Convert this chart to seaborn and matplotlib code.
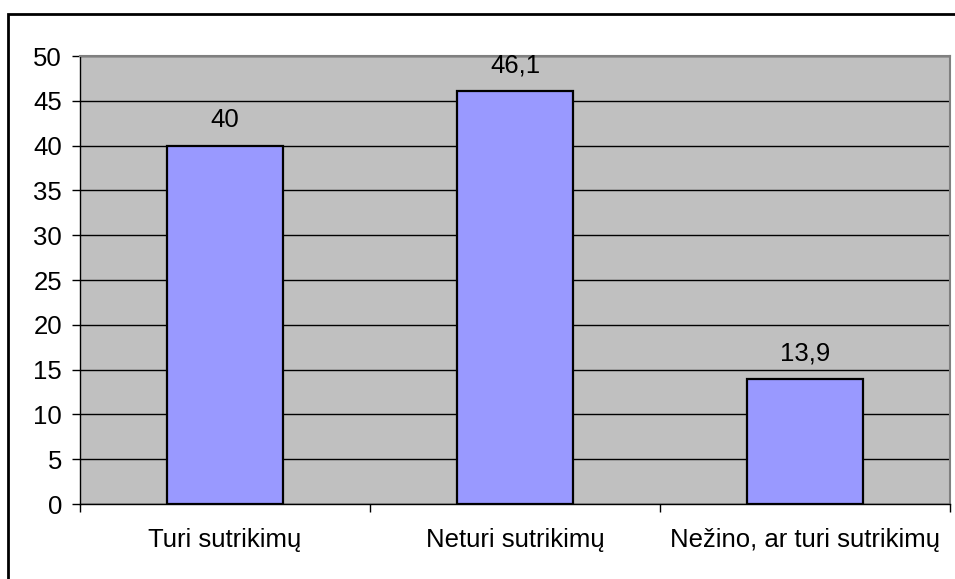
import matplotlib
matplotlib.use('Agg')
import matplotlib.pyplot as plt
import seaborn as sns
import pandas as pd
from matplotlib.patches import Rectangle

# ============================================================
# データ
# ============================================================
categories = ['Turi sutrikimų', 'Neturi sutrikimų', 'Nežino, ar turi sutrikimų']
values = [40, 46.1, 13.9]
y_ticks = [0, 5, 10, 15, 20, 25, 30, 35, 40, 45, 50]

sns.set_style('white')
plt.rcParams['font.family'] = ['Liberation Sans', 'DejaVu Sans']
plt.rcParams['text.color'] = 'black'
plt.rcParams['xtick.color'] = 'black'
plt.rcParams['ytick.color'] = 'black'

FS = 18.5

df = pd.DataFrame({'category': categories, 'value': values})

fig = plt.figure(figsize=(9.55, 5.79), dpi=100)
ax = fig.add_axes([80 / 955, 75 / 579, 870 / 955, 448 / 579])

sns.barplot(data=df, x='category', y='value', color='#9999FF', saturation=1,
            edgecolor='black', linewidth=1.6, width=0.4, ax=ax)

ax.set_facecolor('#C0C0C0')
ax.set_xlim(-0.5, len(categories) - 0.5)
ax.set_ylim(0, 50)
ax.set_yticks(y_ticks)
ax.set_xlabel('')
ax.set_ylabel('')

# 横グリッド
ax.set_axisbelow(True)
ax.yaxis.grid(True, color='black', linewidth=1)
ax.xaxis.grid(False)

# 枠線
for side in ['left', 'bottom']:
    ax.spines[side].set_color('black')
    ax.spines[side].set_linewidth(1)
for side in ['top', 'right']:
    ax.spines[side].set_color('#808080')
    ax.spines[side].set_linewidth(1.5)

# 目盛り
ax.tick_params(axis='y', direction='out', length=6, width=1, color='black',
               labelcolor='black', pad=7, labelsize=FS, left=True)
ax.tick_params(axis='x', which='major', length=0, pad=17, labelsize=FS,
               labelcolor='black')
ax.set_xticks([i - 0.5 for i in range(len(categories) + 1)], minor=True)
ax.tick_params(axis='x', which='minor', direction='out', length=6, width=1,
               color='black', bottom=True)

# 値ラベル
labels = [f'{v:g}'.replace('.', ',') for v in values]
ax.bar_label(ax.containers[0], labels=labels, padding=10, fontsize=FS,
             color='black')

# 外枠
fig.patches.append(Rectangle((8 / 955, -0.1), 1.2, 1 - 14 / 579 + 0.1,
                             transform=fig.transFigure, fill=False,
                             edgecolor='black', linewidth=2))

fig.savefig('out.png', dpi=100)
